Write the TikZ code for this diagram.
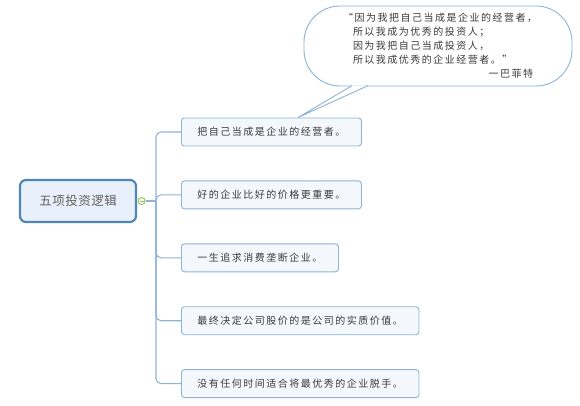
\documentclass[tikz,border=0pt]{standalone}
\usepackage{fontspec}
\usepackage{xcolor}
\newfontfamily\cjk{Noto Sans CJK SC}[LetterSpace=15]
\newfontfamily\cjkroot{Noto Sans CJK SC}[LetterSpace=4]
\usetikzlibrary{positioning}
\definecolor{linkblue}{HTML}{8DB3D6}
\definecolor{rootblue}{HTML}{4F86B5}
\definecolor{rootfill}{HTML}{E8F1FB}
\definecolor{leaffill}{HTML}{F4F8FD}
\definecolor{dotgreen}{HTML}{8CC63F}
\definecolor{textgray}{HTML}{3A3A3A}

\begin{document}
\begin{tikzpicture}[
  x=1pt,y=-1pt,
  root/.style={draw=rootblue,line width=2.2pt,fill=rootfill,rounded corners=6pt,minimum width=116pt,minimum height=42pt,text=black!62,font=\cjkroot\fontsize{12.5}{15}\selectfont},
  leaf/.style={draw=linkblue,line width=0.9pt,fill=leaffill,rounded corners=3pt,minimum height=28pt,inner xsep=16pt,inner ysep=2pt,text=textgray,font=\cjk\fontsize{10}{12}\selectfont},
  dot/.style={circle,draw=dotgreen,fill=white,line width=0.9pt,inner sep=0pt,minimum size=7pt},
  link/.style={draw=linkblue,line width=1.1pt,rounded corners=5pt},
  bubble/.style={draw=linkblue,line width=0.9pt,fill=white,rounded corners=36pt,minimum width=268pt,minimum height=80pt,inner sep=0pt,text width=190pt,align=left,text=textgray,font=\cjk\fontsize{10}{14}\selectfont}
]
\useasboundingbox (0,0) rectangle (580,406);
% central topic
\node[root] (root) at (78,201) {五项投资逻辑};
\node[dot,right=0.5pt of root] (dot) {};
\draw[dotgreen,line width=0.9pt] ([xshift=-2pt]dot.center) -- ([xshift=2pt]dot.center);
\coordinate[right=10.5pt of dot] (hub);
% subtopics
\node[leaf,anchor=west] (l1) at (181,132) {把自己当成是企业的经营者。};
\node[leaf,below=34pt of l1.south west,anchor=north west] (l2) {好的企业比好的价格更重要。};
\node[leaf,below=34pt of l2.south west,anchor=north west] (l3) {一生追求消费垄断企业。};
\node[leaf,below=34pt of l3.south west,anchor=north west] (l4) {最终决定公司股价的是公司的实质价值。};
\node[leaf,below=34pt of l4.south west,anchor=north west] (l5) {没有任何时间适合将最优秀的企业脱手。};
\draw[link] (dot) -- (hub);
\foreach \i in {1,...,5} \draw[link] (hub) |- (l\i.west);
% callout
\node[bubble] (quote) at (438,46) {“因为我把自己当成是企业的经营者，\\
\phantom{“}所以我成为优秀的投资人；\\
\phantom{“}因为我把自己当成投资人，\\
\phantom{“}所以我成优秀的企业经营者。”\\
\hfill 一巴菲特};
\coordinate (b1) at ([xshift=-86pt,yshift=0.8pt]quote.south);
\coordinate (b2) at ([xshift=-70pt,yshift=0.8pt]quote.south);
\coordinate (tip) at ([xshift=117pt]l1.north west);
\fill[white] (b1) -- (tip) -- (b2) -- cycle;
\draw[linkblue,line width=0.9pt] (b1) -- (tip) -- (b2);
\end{tikzpicture}
\end{document}
